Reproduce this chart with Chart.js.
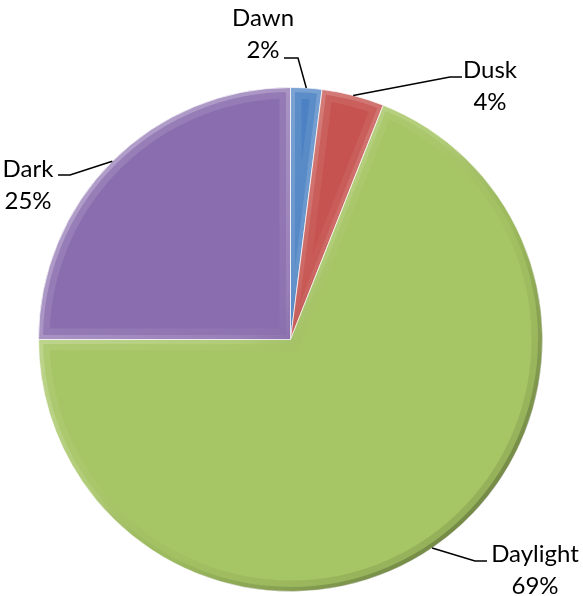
<!DOCTYPE html>
<html>
<head>
<meta charset="utf-8">
<script src="https://cdn.jsdelivr.net/npm/chart.js@4/dist/chart.umd.min.js"></script>
<style>
  html, body { margin: 0; padding: 0; background: #fff; }
  #wrap { width: 583px; height: 596px; position: relative; }
</style>
</head>
<body>
<div id="wrap"><canvas id="lightChart"></canvas></div>
<script>
// Light conditions share
const categories = ['Dawn', 'Dusk', 'Daylight', 'Dark'];
const shares = [2, 4, 69, 25];
const sliceColors = ['#4C82C3', '#C6534F', '#A6C564', '#8A6DAE'];

// Label placement (same order as categories): text centre, first baseline, leader elbow and end
const labelLayout = [
  { x: 263, y: 26,  elbowX: 298, elbowY: 58,  endX: 284 },
  { x: 490, y: 78,  elbowX: 450, elbowY: 77,  endX: 462 },
  { x: 535, y: 562, elbowX: 475, elbowY: 561, endX: 487 },
  { x: 28,  y: 177, elbowX: 70,  elbowY: 175, endX: 58 }
];

const labelFont = '24px Lato, "Open Sans", sans-serif';
const lineGap = 32;

// Soft bevel on each slice: light rim at top-left, dark rim at bottom-right
const bevelPlugin = {
  id: 'bevel',
  afterDatasetsDraw(chart) {
    const ctx = chart.ctx;
    const meta = chart.getDatasetMeta(0);
    meta.data.forEach((arc) => {
      const p = arc.getProps(['x', 'y', 'startAngle', 'endAngle', 'outerRadius'], true);
      const r = p.outerRadius;
      ctx.save();
      ctx.beginPath();
      ctx.moveTo(p.x, p.y);
      ctx.arc(p.x, p.y, r, p.startAngle, p.endAngle);
      ctx.closePath();
      ctx.clip();

      const g = ctx.createLinearGradient(p.x - r, p.y - r, p.x + r, p.y + r);
      g.addColorStop(0, 'rgba(255,255,255,0.45)');
      g.addColorStop(0.45, 'rgba(255,255,255,0.12)');
      g.addColorStop(0.6, 'rgba(0,0,0,0.05)');
      g.addColorStop(1, 'rgba(0,0,0,0.45)');

      ctx.lineJoin = 'miter';
      ctx.strokeStyle = g;
      ctx.lineWidth = 22;
      ctx.globalAlpha = 0.35;
      ctx.stroke();
      ctx.lineWidth = 9;
      ctx.globalAlpha = 0.7;
      ctx.stroke();
      ctx.restore();
    });
  }
};

// Category / percent labels with elbow leader lines
const labelPlugin = {
  id: 'sliceLabels',
  afterDraw(chart) {
    const ctx = chart.ctx;
    const meta = chart.getDatasetMeta(0);
    ctx.save();
    ctx.font = labelFont;
    ctx.fillStyle = '#000';
    ctx.textAlign = 'center';
    ctx.textBaseline = 'alphabetic';
    meta.data.forEach((arc, i) => {
      const p = arc.getProps(['x', 'y', 'startAngle', 'endAngle', 'outerRadius'], true);
      const mid = (p.startAngle + p.endAngle) / 2;
      const ax = p.x + Math.cos(mid) * p.outerRadius;
      const ay = p.y + Math.sin(mid) * p.outerRadius;
      const L = labelLayout[i];

      ctx.beginPath();
      ctx.moveTo(ax, ay);
      ctx.lineTo(L.elbowX, L.elbowY);
      ctx.lineTo(L.endX, L.elbowY);
      ctx.lineWidth = 1.5;
      ctx.strokeStyle = '#000';
      ctx.stroke();

      ctx.fillText(categories[i], L.x, L.y);
      ctx.fillText(shares[i] + '%', L.x, L.y + lineGap);
    });
    ctx.restore();
  }
};

new Chart(document.getElementById('lightChart').getContext('2d'), {
  type: 'pie',
  data: {
    labels: categories,
    datasets: [{
      data: shares,
      backgroundColor: sliceColors,
      borderColor: 'rgba(255,255,255,0.7)',
      borderWidth: 1,
      hoverOffset: 0
    }]
  },
  options: {
    responsive: true,
    maintainAspectRatio: false,
    animation: false,
    layout: { padding: { left: 38, right: 40, top: 87, bottom: 4 } },
    plugins: {
      legend: { display: false },
      tooltip: { enabled: false }
    }
  },
  plugins: [bevelPlugin, labelPlugin]
});
</script>
</body>
</html>
